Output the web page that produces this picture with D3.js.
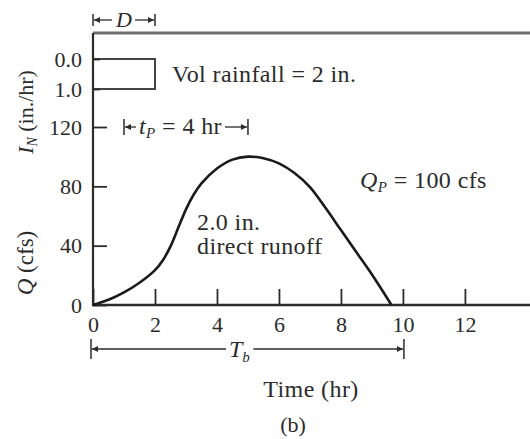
<!DOCTYPE html>
<html>
<head>
<meta charset="utf-8">
<script src="https://cdn.jsdelivr.net/npm/d3@7"></script>
<style>
  html, body { margin: 0; padding: 0; background: #fff; }
  svg { display: block; }
  text { font-family: "Liberation Serif", "DejaVu Serif", serif; fill: #2b2b2b; }
</style>
</head>
<body>
<svg id="chart" width="530" height="439"></svg>
<script>
// Synthetic unit hydrograph: time (hr) and discharge Q (cfs)
const timeHr = [0, 0.5, 1, 1.5, 2, 2.25, 2.5, 2.75, 3, 3.25, 3.5, 4, 4.5, 5, 5.5, 6, 6.5, 7, 7.5, 8, 8.5, 9, 9.63];
const flowCfs = [0, 3.5, 8.5, 15, 23.5, 30, 39.5, 52, 64.5, 74.5, 82, 92, 98, 100, 99, 95.5, 89, 79.5, 65.5, 50.5, 35.5, 20.5, 0];

// Rainfall excess block: duration D (hr) and intensity (in./hr)
const rainStart = [0];
const rainEnd = [2];
const rainIntensity = [1.0];

// Tick values
const timeTicks = [0, 2, 4, 6, 8, 10, 12];
const flowTicks = [0, 40, 80, 120];
const rainTicks = [0.0, 1.0];

// Dimension annotations
const peakTime = 4;     // t_P measured from the centroid of rainfall (hr)
const peakFlow = 100;   // Q_P (cfs)
const baseTime = 10;    // T_b (hr)

const svg = d3.select("#chart");

const x = d3.scaleLinear().domain([0, 14.1]).range([93, 530]);
const yQ = d3.scaleLinear().domain([0, 120]).range([305, 127]);
const yR = d3.scaleLinear().domain([0, 1]).range([59, 89]);

const ink = "#2b2b2b";
const labelFont = "24px";
const labelSpacing = "0.4px";

// Arrowhead marker
const defs = svg.append("defs");
defs.append("marker")
  .attr("id", "arrow")
  .attr("viewBox", "0 0 10 10")
  .attr("refX", 10).attr("refY", 5)
  .attr("markerWidth", 9).attr("markerHeight", 6)
  .attr("markerUnits", "userSpaceOnUse")
  .attr("orient", "auto")
  .append("path").attr("d", "M0,0 L10,5 L0,10 Z").attr("fill", ink);

// Top frame line of the rainfall panel
svg.append("line")
  .attr("x1", x(0)).attr("x2", 530)
  .attr("y1", 33).attr("y2", 33)
  .attr("stroke", "#6f6f6f").attr("stroke-width", 3);

// Rainfall block
svg.selectAll("rect.rain")
  .data(rainIntensity)
  .join("rect")
  .attr("class", "rain")
  .attr("x", (d, i) => x(rainStart[i]))
  .attr("width", (d, i) => x(rainEnd[i]) - x(rainStart[i]))
  .attr("y", yR(0))
  .attr("height", d => yR(d) - yR(0))
  .attr("fill", "#fff")
  .attr("stroke", "#444").attr("stroke-width", 2);

// Axes
function styleAxis(g) {
  g.select(".domain").remove();
  g.selectAll(".tick line").attr("stroke", ink).attr("stroke-width", 1.8);
  g.selectAll(".tick text")
    .attr("fill", ink)
    .style("font-family", '"Liberation Serif", serif')
    .style("font-size", "22px");
}

svg.append("g")
  .attr("transform", `translate(${x(0)},0)`)
  .call(d3.axisLeft(yQ).tickValues(flowTicks).tickSize(-14).tickPadding(11).tickFormat(d3.format("d")))
  .call(styleAxis);

svg.append("g")
  .attr("transform", `translate(${x(0)},0)`)
  .call(d3.axisLeft(yR).tickValues(rainTicks).tickSize(-7).tickPadding(11).tickFormat(d3.format(".1f")))
  .call(styleAxis);

svg.append("g")
  .attr("transform", `translate(0,${yQ(0)})`)
  .call(d3.axisBottom(x).tickValues(timeTicks).tickSize(-16).tickPadding(11).tickFormat(d3.format("d")))
  .call(styleAxis);

// Axis lines
svg.append("line")
  .attr("x1", x(0)).attr("x2", x(0))
  .attr("y1", 33).attr("y2", yQ(0) + 1)
  .attr("stroke", ink).attr("stroke-width", 2.2);
svg.append("line")
  .attr("x1", x(0) - 1).attr("x2", 530)
  .attr("y1", yQ(0)).attr("y2", yQ(0))
  .attr("stroke", ink).attr("stroke-width", 2.5);

// Hydrograph curve
const line = d3.line()
  .x((d, i) => x(timeHr[i]))
  .y(d => yQ(d))
  .curve(d3.curveCatmullRom.alpha(0.5));

svg.append("path")
  .datum(flowCfs)
  .attr("d", line)
  .attr("fill", "none")
  .attr("stroke", "#1a1a1a")
  .attr("stroke-width", 2.6);

// Dimension line: end bars and outward arrows with a gap around the label
function dimension(x1, x2, y, tickHalf, label) {
  const b = label.node().getBBox();
  const gapL = b.x - 3, gapR = b.x + b.width + 3;
  const g = svg.append("g");
  [x1, x2].forEach(xx => g.append("line")
    .attr("x1", xx).attr("x2", xx).attr("y1", y - tickHalf).attr("y2", y + tickHalf)
    .attr("stroke", ink).attr("stroke-width", 1.5));
  g.append("line").attr("x1", gapL).attr("x2", x1 + 1).attr("y1", y).attr("y2", y)
    .attr("stroke", ink).attr("stroke-width", 1.3).attr("marker-end", "url(#arrow)");
  g.append("line").attr("x1", gapR).attr("x2", x2 - 1).attr("y1", y).attr("y2", y)
    .attr("stroke", ink).attr("stroke-width", 1.3).attr("marker-end", "url(#arrow)");
}

// D (rainfall duration)
const dLabel = svg.append("text").attr("x", 124).attr("y", 27).attr("text-anchor", "middle")
  .style("font-size", "22px").style("font-style", "italic").text("D");
dimension(x(rainStart[0]), x(rainEnd[0]), 20, 6, dLabel);

// t_P (time to peak from rainfall centroid)
const tpStart = (rainStart[0] + rainEnd[0]) / 2;
const tp = svg.append("text").attr("x", 139).attr("y", 134)
  .style("font-size", labelFont).style("letter-spacing", labelSpacing);
tp.append("tspan").style("font-style", "italic").text("t");
tp.append("tspan").attr("dy", 4).style("font-size", "15px").style("font-style", "italic").text("P");
tp.append("tspan").attr("dy", -4).text(" = " + peakTime + " hr");
dimension(x(tpStart), x(tpStart + peakTime), 127, 8, tp);

// T_b (base time)
const tb = svg.append("text").attr("x", 229).attr("y", 357).style("font-size", labelFont);
tb.append("tspan").style("font-style", "italic").text("T");
tb.append("tspan").attr("dy", 5).style("font-size", "15px").style("font-style", "italic").text("b");
dimension(x(0) - 2, x(baseTime) + 1, 349, 10, tb);

// Annotations
svg.append("text").attr("x", 172).attr("y", 82)
  .style("font-size", labelFont).style("letter-spacing", labelSpacing)
  .text("Vol rainfall = 2 in.");

const qp = svg.append("text").attr("x", 360).attr("y", 188)
  .style("font-size", labelFont).style("letter-spacing", labelSpacing);
qp.append("tspan").style("font-style", "italic").text("Q");
qp.append("tspan").attr("dy", 4).style("font-size", "15px").style("font-style", "italic").text("P");
qp.append("tspan").attr("dy", -4).text(" = " + peakFlow + " cfs");

svg.append("text").attr("x", 197).attr("y", 230)
  .style("font-size", labelFont).style("letter-spacing", labelSpacing).text("2.0 in.");
svg.append("text").attr("x", 197).attr("y", 254)
  .style("font-size", labelFont).style("letter-spacing", labelSpacing).text("direct runoff");

// Axis titles
svg.append("text").attr("x", 311).attr("y", 397).attr("text-anchor", "middle")
  .style("font-size", labelFont).style("letter-spacing", labelSpacing).text("Time (hr)");
svg.append("text").attr("x", 293).attr("y", 432).attr("text-anchor", "middle")
  .style("font-size", "22px").text("(b)");

const iy = svg.append("text").attr("transform", "translate(33,112) rotate(-90)")
  .attr("text-anchor", "middle").style("font-size", "22px");
iy.append("tspan").style("font-style", "italic").text("I");
iy.append("tspan").attr("dy", 4).style("font-size", "14px").style("font-style", "italic").text("N");
iy.append("tspan").attr("dy", -4).text(" (in./hr)");

const qy = svg.append("text").attr("transform", "translate(33,263) rotate(-90)")
  .attr("text-anchor", "middle").style("font-size", "23px");
qy.append("tspan").style("font-style", "italic").text("Q");
qy.append("tspan").text(" (cfs)");
</script>
</body>
</html>
